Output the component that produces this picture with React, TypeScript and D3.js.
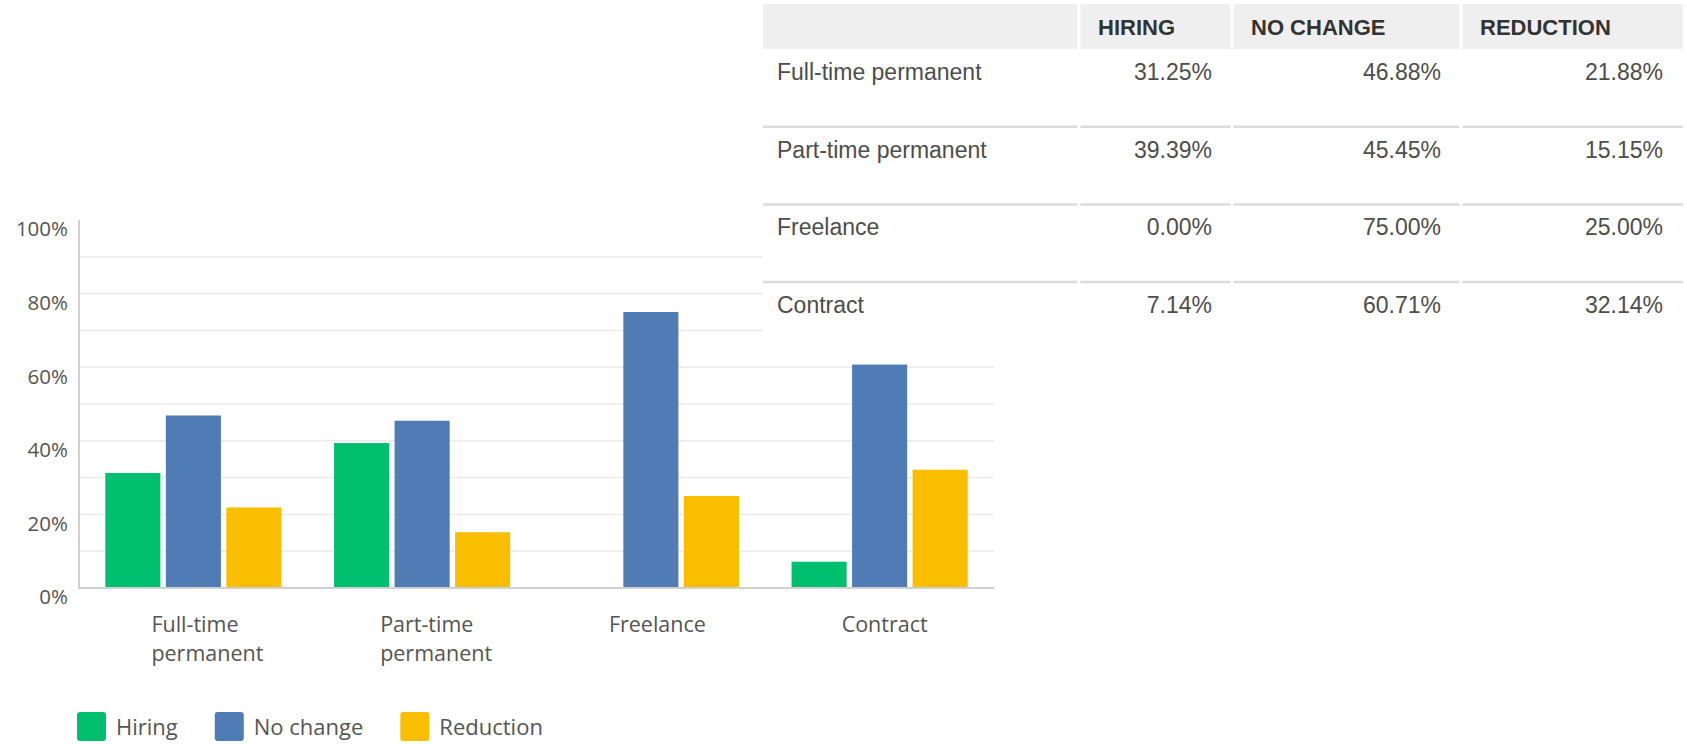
import React, { useEffect, useRef } from 'react';
import * as d3 from 'd3';

// chart data
const categories = ['Full-time permanent', 'Part-time permanent', 'Freelance', 'Contract'];
const categoryLines = [['Full-time', 'permanent'], ['Part-time', 'permanent'], ['Freelance'], ['Contract']];
const seriesNames = ['Hiring', 'No change', 'Reduction'];
const hiring = [31.25, 39.39, 0.0, 7.14];
const noChange = [46.88, 45.45, 75.0, 60.71];
const reduction = [21.88, 15.15, 25.0, 32.14];
const tableHeaders = ['HIRING', 'NO CHANGE', 'REDUCTION'];

const colors = ['#00bf6f', '#507cb6', '#f9be00'];
const W = 1687;
const H = 744;

const drawChart = (svg: d3.Selection<SVGSVGElement, unknown, null, undefined>) => {
    const series = [hiring, noChange, reduction];

    const x = d3.scaleBand().domain(categories).range([79, 994]).paddingInner(0.23).paddingOuter(0.115);
    const xs = d3.scaleBand().domain(seriesNames).range([0, x.bandwidth()]).paddingInner(0.09);
    const y = d3.scaleLinear().domain([0, 100]).range([588, 220]);

    // grid lines every 10%
    svg.append('g')
        .selectAll('line')
        .data(y.ticks(10).filter((t) => t > 0 && t < 100))
        .enter()
        .append('line')
        .attr('x1', 79)
        .attr('x2', 994)
        .attr('y1', (d) => y(d))
        .attr('y2', (d) => y(d))
        .attr('stroke', '#ebebeb')
        .attr('stroke-width', 1.5);

    // y labels every 20%, sitting a little below their line
    svg.append('g')
        .selectAll('text')
        .data(y.ticks(5))
        .enter()
        .append('text')
        .attr('x', 68)
        .attr('y', (d) => y(d) + 11)
        .attr('text-anchor', 'end')
        .attr('dominant-baseline', 'middle')
        .attr('font-family', 'Open Sans')
        .attr('font-size', '20.5px')
        .attr('fill', '#555')
        .text((d) => d + '%');

    // bars
    const groups = svg.append('g')
        .selectAll('g')
        .data(categories)
        .enter()
        .append('g')
        .attr('transform', (d) => 'translate(' + x(d) + ',0)');

    groups.selectAll('rect')
        .data((d, i) => seriesNames.map((s, j) => ({ s, v: series[j][i], j })))
        .enter()
        .append('rect')
        .attr('x', (d) => xs(d.s) as number)
        .attr('y', (d) => y(d.v))
        .attr('width', xs.bandwidth())
        .attr('height', (d) => y(0) - y(d.v))
        .attr('fill', (d) => colors[d.j]);

    // axes lines
    svg.append('line')
        .attr('x1', 79).attr('x2', 79)
        .attr('y1', y(100)).attr('y2', y(0) + 1)
        .attr('stroke', '#d0d0d0').attr('stroke-width', 2);
    svg.append('line')
        .attr('x1', 78).attr('x2', 994)
        .attr('y1', y(0)).attr('y2', y(0))
        .attr('stroke', '#d0d0d0').attr('stroke-width', 2);

    // category labels, left aligned under each group
    const lbl = svg.append('g')
        .selectAll('text')
        .data(categories)
        .enter()
        .append('text')
        .attr('font-family', 'Open Sans')
        .attr('font-size', '21.5px')
        .attr('fill', '#555');
    lbl.each(function (d, i) {
        const cx = (x(d) as number) + x.bandwidth() / 2 - 42 + (i === 3 ? 4 : 0);
        categoryLines[i].forEach((line, k) => {
            d3.select(this).append('tspan')
                .attr('x', cx)
                .attr('y', 632 + k * 29)
                .text(line);
        });
    });

    // legend
    let lx = 77;
    seriesNames.forEach((name, i) => {
        svg.append('rect')
            .attr('x', lx).attr('y', 712)
            .attr('width', 29).attr('height', 29)
            .attr('rx', 3)
            .attr('fill', colors[i]);
        const t = svg.append('text')
            .attr('x', lx + 39)
            .attr('y', 735)
            .attr('font-family', 'Open Sans')
            .attr('font-size', '22px')
            .attr('fill', '#555')
            .text(name);
        const tw = (t.node() as SVGTextElement).getComputedTextLength();
        lx += 39 + tw + 37;
    });
};

const drawTable = (svg: d3.Selection<SVGSVGElement, unknown, null, undefined>) => {
    const series = [hiring, noChange, reduction];
    const cols = [763, 1079, 1232, 1461, 1683];
    const headTop = 4;
    const headBottom = 49;
    const rowH = 77.7;

    const tbl = svg.append('g');
    tbl.append('rect')
        .attr('x', cols[0]).attr('y', 0)
        .attr('width', cols[4] - cols[0]).attr('height', headBottom + rowH * categories.length)
        .attr('fill', '#fff');

    // header cells
    cols.slice(0, 4).forEach((c, i) => {
        tbl.append('rect')
            .attr('x', c + (i ? 1.5 : 0))
            .attr('y', headTop)
            .attr('width', cols[i + 1] - c - (i ? 1.5 : 0) - (i < 3 ? 1.5 : 0))
            .attr('height', headBottom - headTop)
            .attr('fill', '#efefef');
    });
    tableHeaders.forEach((h, i) => {
        tbl.append('text')
            .attr('x', cols[i + 1] + 19)
            .attr('y', 34.5)
            .attr('font-family', 'Liberation Sans')
            .attr('font-weight', 'bold')
            .attr('font-size', '22px')
            .attr('fill', '#333')
            .text(h);
    });

    categories.forEach((cat, r) => {
        const top = headBottom + r * rowH;
        tbl.append('text')
            .attr('x', cols[0] + 14)
            .attr('y', top + 31)
            .attr('font-family', 'Liberation Sans')
            .attr('font-size', '23px')
            .attr('fill', '#4d4d4d')
            .text(cat);
        series.forEach((s, j) => {
            tbl.append('text')
                .attr('x', cols[j + 2] - 20)
                .attr('y', top + 31)
                .attr('text-anchor', 'end')
                .attr('font-family', 'Liberation Sans')
                .attr('font-size', '23px')
                .attr('fill', '#4d4d4d')
                .text(s[r].toFixed(2) + '%');
        });
        if (r < categories.length - 1) {
            cols.slice(0, 4).forEach((c, i) => {
                tbl.append('line')
                    .attr('x1', c + (i ? 1.5 : 0))
                    .attr('x2', cols[i + 1] - (i < 3 ? 1.5 : 0))
                    .attr('y1', top + rowH)
                    .attr('y2', top + rowH)
                    .attr('stroke', '#dcdcdc')
                    .attr('stroke-width', 2.5);
            });
        }
    });
};

const App = () => {
    const ref = useRef<SVGSVGElement>(null);

    useEffect(() => {
        const svg = d3.select(ref.current as SVGSVGElement);
        svg.selectAll('*').remove();
        drawChart(svg);
        drawTable(svg);
    }, []);

    return (
        <svg
            ref={ref}
            width={W}
            height={H}
            style={{ position: 'absolute', left: 0, top: 0, background: '#fff' }}
        />
    );
};

export default App;
